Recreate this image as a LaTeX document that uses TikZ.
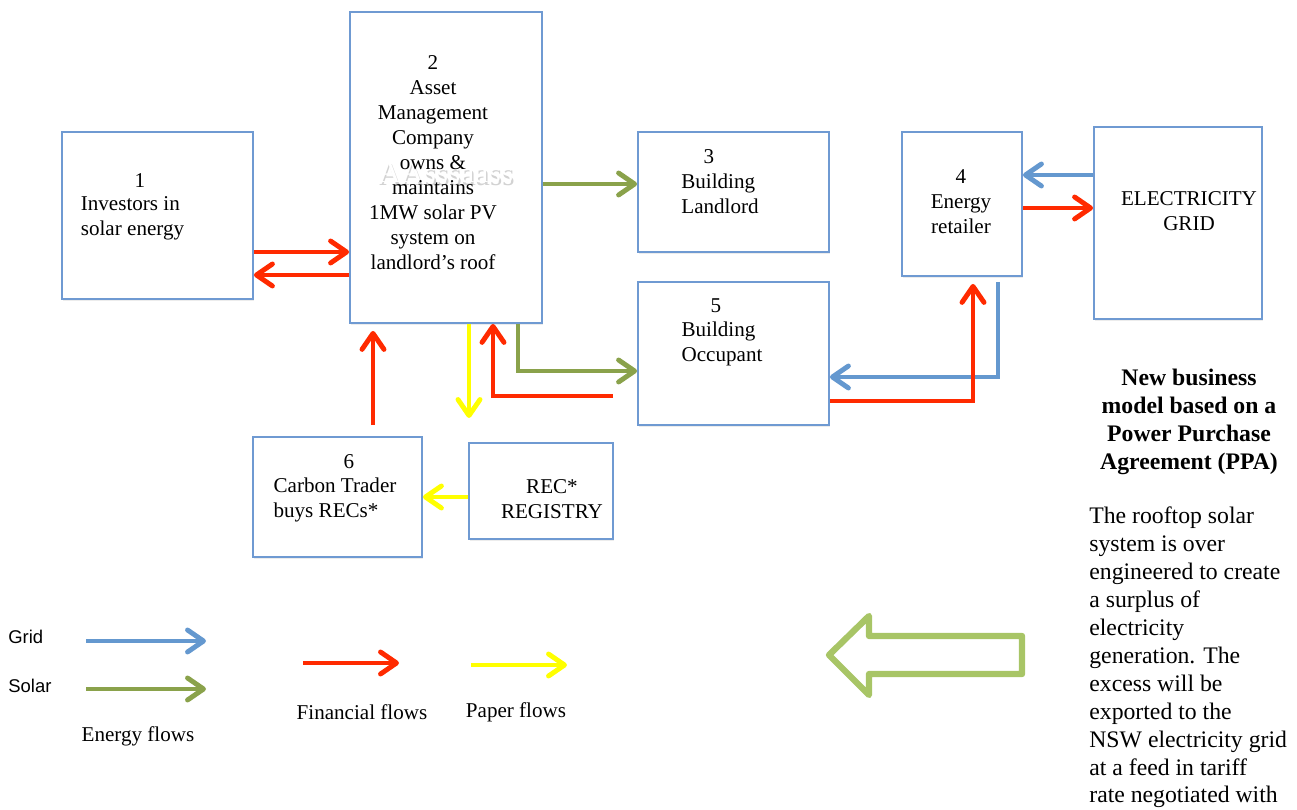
\documentclass[tikz,border=0pt]{standalone}
\usepackage{fontspec}
\setmainfont{Liberation Serif}
\setsansfont{Liberation Sans}
\usetikzlibrary{arrows.meta,calc,shadows}
\definecolor{BoxBlue}{HTML}{6F9AD2}
\definecolor{GridBlue}{HTML}{6498CF}
\definecolor{SolarGreen}{HTML}{8AA24B}
\definecolor{FinRed}{HTML}{FF2A00}
\definecolor{PaperYellow}{HTML}{FFFF00}
\definecolor{HintGreen}{HTML}{A8C566}
\tikzset{box/.style={draw=BoxBlue,line width=1.1pt,fill=white,inner sep=0pt,drop shadow={shadow xshift=.8pt,shadow yshift=-1.4pt,opacity=.15}},lbl/.style={inner sep=0pt,font=\fontsize{12}{14.2}\selectfont},note/.style={inner sep=0pt,font=\fontsize{13.5}{15.9}\selectfont},flowline/.style={line width=2.8pt,-{Straight Barb[round,length=3.2mm,width=4.4mm]}},grd/.style={flowline,draw=GridBlue},sol/.style={flowline,draw=SolarGreen},fin/.style={flowline,draw=FinRed},pap/.style={flowline,draw=PaperYellow}}
\begin{document}
\begin{tikzpicture}[x=0.02cm,y=-0.02cm]
\useasboundingbox (0,0) rectangle (1297,810);
% boxes
\node[box,minimum width=3.82cm,minimum height=3.34cm](inv) at (157.5,215.5){};
\node[box,minimum width=3.84cm,minimum height=6.22cm](amc) at (446,167.5){};
\node[box,minimum width=3.82cm,minimum height=2.40cm](lord) at (733.5,192){};
\node[box,minimum width=2.40cm,minimum height=2.88cm](ret) at (962,204){};
\node[box,minimum width=3.36cm,minimum height=3.84cm](elecgrid) at (1178,223){};
\node[box,minimum width=3.82cm,minimum height=2.86cm](occ) at (733.5,353.5){};
\node[box,minimum width=3.38cm,minimum height=2.40cm](trader) at (337.5,497){};
\node[box,minimum width=2.88cm,minimum height=1.92cm](reg) at (541,491){};
% faint stamp behind box 2
\node[inner sep=0pt,font=\fontsize{18}{20}\selectfont,text=gray,opacity=.35](wmshadow) at (447,175){AAsssaass};
\node[inner sep=0pt,font=\fontsize{18}{20}\selectfont,text=white](wm) at (445.5,172){AAsssaass};
% box texts
\node[lbl](n1) at (140,181){1};
\node[lbl,align=left](t1) at (132.5,218.5){Investors in\\solar energy};
\node[lbl,align=center](t2) at (433,162.5){2\\Asset\\Management\\Company\\owns \&\\maintains\\1MW solar PV\\system on\\landlord’s roof};
\node[lbl](n3) at (709,157){3};
\node[lbl,align=left](t3) at (720,194){Building\\Landlord};
\node[lbl,align=center](t4) at (961,201.5){4\\Energy\\retailer};
\node[lbl,align=center](t7) at (1189,211.5){ELECTRICITY\\GRID};
\node[lbl](n5) at (716,306){5};
\node[lbl,align=left](t5) at (722,343.5){Building\\Occupant};
\node[lbl](n6) at (349,462){6};
\node[lbl,align=left](t6) at (335,499.5){Carbon Trader\\buys RECs*};
\node[lbl,align=center](t8) at (552,499){REC*\\REGISTRY};
% level helpers
\coordinate (yInvA) at (0,252);
\coordinate (yInvB) at (0,275);
\coordinate (yLord) at (0,184);
\coordinate (xSol) at (518,0);
\coordinate (ySol) at (0,371);
\coordinate (finA) at (613,396);
\coordinate (xFinA) at (493,0);
\coordinate (papA) at (469,418);
\coordinate (finB) at (373,425);
\coordinate (yReg) at (0,497);
\coordinate (yGrdA) at (0,175);
\coordinate (yFinC) at (0,208);
\coordinate (grdB) at (998,282);
\coordinate (yGrdB) at (0,377);
\coordinate (yFinD) at (0,401);
\coordinate (xFinD) at (973,0);
% flows
\draw[fin](inv.east |- yInvA)--(amc.west |- yInvA);
\draw[fin](amc.west |- yInvB)--(inv.east |- yInvB);
\draw[sol](amc.east |- yLord)--(lord.west |- yLord);
\draw[sol](amc.south -| xSol)|-(occ.west |- ySol);
\draw[fin](finA)-|(amc.south -| xFinA);
\draw[pap](amc.south -| papA)--(papA);
\draw[fin,shorten >=0.14cm](finB)--(amc.south -| finB);
\draw[pap](reg.west |- yReg)--(trader.east |- yReg);
\draw[grd](elecgrid.west |- yGrdA)--(ret.east |- yGrdA);
\draw[fin](ret.east |- yFinC)--(elecgrid.west |- yFinC);
\draw[grd](grdB)|-(occ.east |- yGrdB);
\draw[fin,shorten >=0.14cm](occ.east |- yFinD)-|(ret.south -| xFinD);
% legend
\coordinate (lgA) at (86,641); \coordinate (lgB) at (206,641);
\coordinate (lgC) at (86,689); \coordinate (lgD) at (206,689);
\coordinate (lgE) at (303,663); \coordinate (lgF) at (399,663);
\coordinate (lgG) at (471,665); \coordinate (lgH) at (567,665);
\draw[grd](lgA)--(lgB);
\draw[sol](lgC)--(lgD);
\draw[fin](lgE)--(lgF);
\draw[pap](lgG)--(lgH);
\node[inner sep=0pt,anchor=west,font=\sffamily\fontsize{10.5}{12}\selectfont](lgGrid) at (8,637){Grid};
\node[inner sep=0pt,anchor=west,font=\sffamily\fontsize{10.5}{12}\selectfont](lgSolar) at (8,686){Solar};
\node[lbl](lgFin) at (362,712){Financial flows};
\node[lbl](lgPap) at (516,712){Paper flows};
\node[lbl](lgEn) at (138,736){Energy flows};
% hollow hint arrow
\draw[HintGreen,line width=3.6pt,line join=round](829,655)--(869,616)--(869,636)--(1022,636)--(1022,674)--(869,674)--(869,695)--cycle;
% side note
\node[note,font=\bfseries\fontsize{13.5}{15.9}\selectfont,align=center](title) at (1189,421.5){New business\\model based on a\\Power Purchase\\Agreement (PPA)};
\node[note,align=left,anchor=west](body) at (1089,657.5){The rooftop solar\\system is over\\engineered to create\\a surplus of\\electricity\\generation. The\\excess will be\\exported to the\\NSW electricity grid\\at a feed in tariff\\rate negotiated with};
\end{tikzpicture}
\end{document}
